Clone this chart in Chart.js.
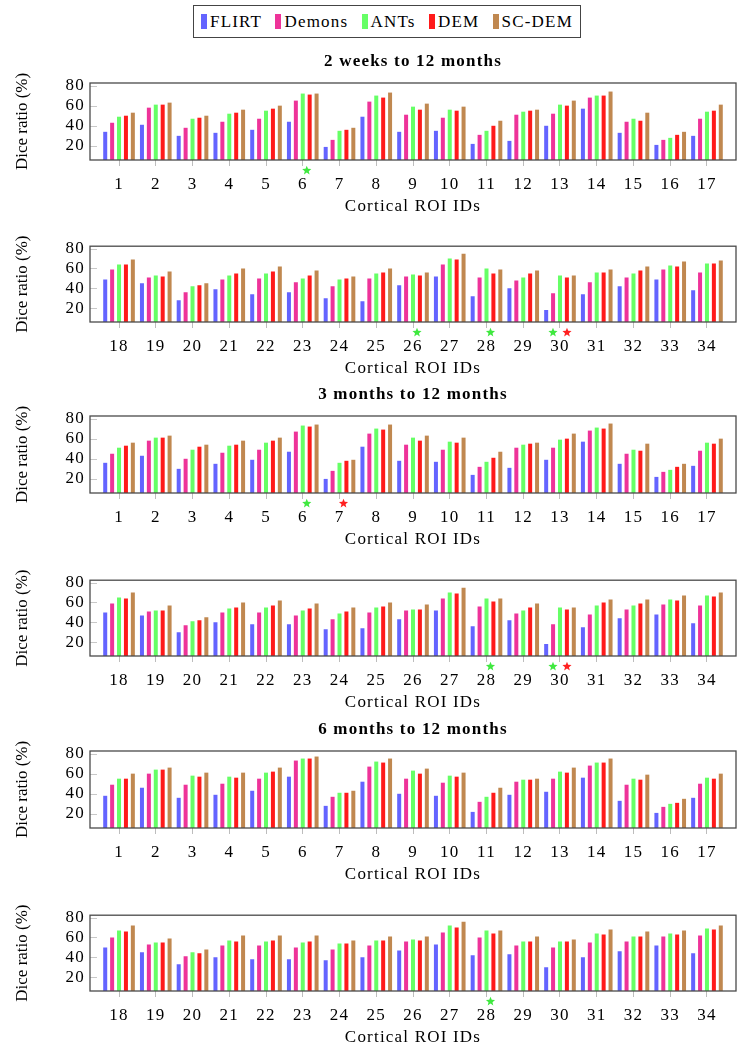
<!DOCTYPE html>
<html>
<head>
<meta charset="utf-8">
<script src="https://cdn.jsdelivr.net/npm/chart.js@4.4.1/dist/chart.umd.min.js"></script>
<style>
    html, body { margin: 0; padding: 0; background: #fff; }
    body { width: 747px; height: 1050px; position: relative; overflow: hidden; font-family: "Liberation Serif", "Times New Roman", serif; }
    canvas.panel { position: absolute; left: 0; }
    #legend {
        position: absolute; left: 193px; top: 5px; width: 388px; height: 33px;
        border: 1px solid #444; box-sizing: border-box; padding: 0 7px;
        display: flex; align-items: center; justify-content: space-between;
        font-size: 17px; letter-spacing: 1.2px; color: #000;
    }
    .legend-item { display: flex; align-items: center; }
    .legend-swatch { display: inline-block; width: 6px; height: 15px; margin-right: 3px; }
</style>
</head>
<body>
<div id="legend"></div>
<canvas class="panel" id="p1" width="747" height="178" style="top:40px"></canvas>
<canvas class="panel" id="p2" width="747" height="149" style="top:231px"></canvas>
<canvas class="panel" id="p3" width="747" height="178" style="top:373px"></canvas>
<canvas class="panel" id="p4" width="747" height="149" style="top:565px"></canvas>
<canvas class="panel" id="p5" width="747" height="178" style="top:708px"></canvas>
<canvas class="panel" id="p6" width="747" height="149" style="top:900px"></canvas>
<script>
const methods = ['FLIRT', 'Demons', 'ANTs', 'DEM', 'SC-DEM'];
const methodColors = ['#6464ff', '#ee3399', '#66ff66', '#ff1a1a', '#c08850'];
const starColors = { ANTs: '#3fe83f', DEM: '#ff2020' };

const roiFirst = [1, 2, 3, 4, 5, 6, 7, 8, 9, 10, 11, 12, 13, 14, 15, 16, 17];
const roiSecond = [18, 19, 20, 21, 22, 23, 24, 25, 26, 27, 28, 29, 30, 31, 32, 33, 34];
const yTicks = [20, 40, 60, 80];

// 2 weeks to 12 months
const twoWk1Flirt = [34, 41, 30, 33, 36, 44, 19, 49, 34, 35, 22, 25, 40, 57, 33, 21, 30];
const twoWk1Demons = [43, 58, 38, 44, 47, 65, 26, 64, 51, 48, 31, 51, 52, 68, 44, 26, 47];
const twoWk1Ants = [49, 61, 47, 52, 55, 72, 35, 70, 59, 56, 35, 54, 61, 70, 47, 28, 54];
const twoWk1Dem = [50, 61, 48, 53, 57, 71, 36, 68, 56, 55, 40, 55, 60, 70, 45, 31, 55];
const twoWk1ScDem = [53, 63, 50, 56, 60, 72, 38, 73, 62, 59, 45, 56, 65, 74, 53, 34, 61];

const twoWk2Flirt = [49, 45, 28, 39, 34, 36, 30, 27, 43, 52, 32, 40, 18, 34, 42, 49, 38];
const twoWk2Demons = [59, 51, 36, 49, 50, 46, 42, 50, 52, 64, 51, 48, 35, 46, 51, 59, 56];
const twoWk2Ants = [64, 53, 42, 53, 55, 50, 49, 55, 54, 70, 60, 51, 53, 56, 55, 63, 65];
const twoWk2Dem = [64, 52, 43, 55, 57, 53, 50, 56, 53, 69, 55, 55, 51, 56, 58, 62, 65];
const twoWk2ScDem = [69, 57, 45, 60, 62, 58, 52, 60, 56, 75, 59, 58, 53, 59, 62, 67, 68];

// 3 months to 12 months
const threeMo1Flirt = [36, 43, 30, 35, 39, 47, 20, 52, 38, 37, 24, 31, 39, 57, 35, 22, 33];
const threeMo1Demons = [45, 58, 40, 46, 49, 67, 28, 65, 54, 49, 32, 51, 51, 68, 45, 27, 48];
const threeMo1Ants = [51, 61, 49, 53, 56, 73, 36, 70, 61, 57, 37, 54, 59, 71, 49, 29, 56];
const threeMo1Dem = [53, 61, 52, 54, 58, 72, 38, 69, 58, 56, 41, 55, 60, 70, 48, 32, 55];
const threeMo1ScDem = [56, 63, 54, 58, 61, 74, 39, 74, 63, 61, 47, 56, 65, 75, 55, 35, 60];

const threeMo2Flirt = [50, 47, 30, 40, 38, 38, 33, 34, 43, 52, 36, 42, 18, 35, 44, 48, 39];
const threeMo2Demons = [59, 51, 37, 50, 50, 47, 43, 50, 52, 64, 56, 49, 38, 48, 53, 58, 57];
const threeMo2Ants = [65, 52, 41, 54, 55, 52, 49, 55, 53, 70, 64, 52, 55, 57, 57, 63, 67];
const threeMo2Dem = [64, 52, 42, 55, 57, 54, 51, 56, 53, 69, 61, 55, 53, 60, 59, 62, 66];
const threeMo2ScDem = [70, 57, 45, 60, 62, 59, 55, 60, 58, 75, 64, 59, 55, 63, 63, 67, 70];

// 6 months to 12 months
const sixMo1Flirt = [38, 46, 36, 39, 43, 57, 28, 52, 40, 38, 22, 39, 42, 56, 33, 21, 36];
const sixMo1Demons = [49, 60, 49, 50, 55, 73, 37, 67, 55, 51, 32, 52, 55, 68, 49, 27, 50];
const sixMo1Ants = [55, 64, 58, 57, 61, 75, 41, 72, 63, 58, 37, 54, 62, 71, 55, 30, 56];
const sixMo1Dem = [55, 64, 57, 56, 62, 75, 41, 71, 60, 57, 41, 54, 61, 71, 54, 31, 55];
const sixMo1ScDem = [60, 66, 61, 61, 66, 77, 43, 75, 65, 61, 46, 55, 66, 75, 59, 35, 60];

const sixMo2Flirt = [50, 45, 33, 40, 38, 38, 37, 40, 47, 53, 42, 43, 30, 40, 46, 52, 44];
const sixMo2Demons = [60, 53, 41, 52, 52, 50, 48, 52, 56, 65, 60, 52, 50, 55, 56, 61, 62];
const sixMo2Ants = [67, 55, 45, 57, 56, 55, 54, 57, 58, 72, 67, 56, 56, 64, 61, 64, 69];
const sixMo2Dem = [66, 55, 44, 56, 57, 56, 54, 57, 57, 70, 64, 56, 56, 63, 61, 63, 68];
const sixMo2ScDem = [72, 59, 48, 62, 62, 62, 57, 61, 61, 76, 67, 61, 58, 68, 66, 67, 72];

// significance stars under the axis
const twoWk1Stars = [{ roi: 6, method: 'ANTs' }];
const twoWk2Stars = [{ roi: 26, method: 'ANTs' }, { roi: 28, method: 'ANTs' }, { roi: 30, method: 'ANTs' }, { roi: 30, method: 'DEM' }];
const threeMo1Stars = [{ roi: 6, method: 'ANTs' }, { roi: 7, method: 'DEM' }];
const threeMo2Stars = [{ roi: 28, method: 'ANTs' }, { roi: 30, method: 'ANTs' }, { roi: 30, method: 'DEM' }];
const sixMo1Stars = [];
const sixMo2Stars = [{ roi: 28, method: 'ANTs' }];

Chart.defaults.font.family = '"Liberation Serif", "Times New Roman", serif';
Chart.defaults.font.size = 17;
Chart.defaults.color = '#000';

const legendEl = document.getElementById('legend');
methods.forEach(function (name, i) {
    const item = document.createElement('span');
    item.className = 'legend-item';
    item.innerHTML = '<span class="legend-swatch" style="background:' + methodColors[i] + '"></span>' + name;
    legendEl.appendChild(item);
});

function drawStar(ctx, cx, cy, outer, inner, color) {
    ctx.beginPath();
    for (let k = 0; k < 10; k++) {
        const r = k % 2 === 0 ? outer : inner;
        const a = -Math.PI / 2 + k * Math.PI / 5;
        const px = cx + r * Math.cos(a);
        const py = cy + r * Math.sin(a);
        if (k === 0) ctx.moveTo(px, py); else ctx.lineTo(px, py);
    }
    ctx.closePath();
    ctx.fillStyle = color;
    ctx.fill();
}

// the source figure is set a little wide; spread horizontal text to match
const textSpreadPlugin = {
    id: 'textSpread',
    beforeDraw(chart) {
        chart.ctx.letterSpacing = '1.2px';
        const ys = chart.scales.y;
        if (ys && !ys._plainTitle) {
            const original = ys.drawTitle;
            ys.drawTitle = function () {
                const c = this.ctx;
                const prev = c.letterSpacing;
                c.letterSpacing = '0px';
                original.apply(this, arguments);
                c.letterSpacing = prev;
            };
            ys._plainTitle = true;
        }
    }
};

const framePlugin = {
    id: 'frame',
    afterDatasetsDraw(chart) {
        const ctx = chart.ctx;
        const a = chart.chartArea;
        const ys = chart.scales.y;
        ctx.save();
        ctx.strokeStyle = '#c8c8c8';
        ctx.lineWidth = 1;
        ys.ticks.forEach(function (t) {
            const y = Math.round(ys.getPixelForValue(t.value)) + 0.5;
            ctx.beginPath();
            ctx.moveTo(a.left, y);
            ctx.lineTo(a.left + 7, y);
            ctx.stroke();
        });
        ctx.strokeStyle = '#4a4a4a';
        ctx.lineWidth = 1.3;
        ctx.strokeRect(a.left, a.top, a.right - a.left, a.bottom - a.top);
        ctx.restore();
    }
};

const starPlugin = {
    id: 'starMarks',
    afterDatasetsDraw(chart, args, opts) {
        const stars = opts.stars || [];
        const xs = chart.scales.x;
        const ctx = chart.ctx;
        ctx.save();
        stars.forEach(function (s) {
            const paired = stars.filter(function (o) { return o.roi === s.roi; }).length > 1;
            const shift = paired ? (s.method === 'ANTs' ? -7 : 7) : 4;
            const cx = xs.getPixelForValue(s.roi) + shift;
            const cy = chart.chartArea.bottom + 10.5;
            drawStar(ctx, cx, cy, 4.8, 2.1, starColors[s.method]);
        });
        ctx.restore();
    }
};

function buildPanel(canvasId, title, rois, series, stars) {
    const datasets = methods.map(function (name, i) {
        return {
            label: name,
            data: series[i],
            backgroundColor: methodColors[i],
            borderWidth: 0,
            categoryPercentage: 0.94,
            barPercentage: 0.58
        };
    });

    new Chart(document.getElementById(canvasId), {
        type: 'bar',
        data: { labels: rois, datasets: datasets },
        options: {
            responsive: false,
            animation: false,
            layout: { padding: { top: title ? 0 : 14, right: 11, left: 0, bottom: 0 } },
            plugins: {
                legend: { display: false },
                tooltip: { enabled: false },
                title: {
                    display: !!title,
                    text: title,
                    fullSize: false,
                    color: '#000',
                    font: { size: 17, weight: 'bold' },
                    padding: { top: 11.3, bottom: 11.3 }
                },
                starMarks: { stars: stars }
            },
            scales: {
                x: {
                    type: 'linear',
                    offset: false,
                    min: rois[0] - 0.79,
                    max: rois[rois.length - 1] + 0.79,
                    afterBuildTicks: function (scale) {
                        scale.ticks = rois.map(function (v) { return { value: v }; });
                    },
                    afterFit: function (scale) { scale.height = 58; },
                    grid: { display: true, offset: false, drawOnChartArea: false, drawTicks: true, tickLength: 6, color: '#bdbdbd' },
                    border: { display: false },
                    ticks: { padding: 8, maxRotation: 0, autoSkip: false, color: '#000' },
                    title: { display: true, text: 'Cortical ROI IDs', color: '#000', padding: { top: 0, bottom: 0.8 } }
                },
                y: {
                    min: 6,
                    max: 82.5,
                    afterBuildTicks: function (scale) {
                        scale.ticks = yTicks.map(function (v) { return { value: v }; });
                    },
                    afterFit: function (scale) { scale.width = 90; },
                    grid: { display: false, drawTicks: false },
                    border: { display: false },
                    ticks: { padding: 5, color: '#000' },
                    title: { display: true, text: 'Dice ratio (%)', color: '#000', padding: { top: 12, bottom: 0 } }
                }
            }
        },
        plugins: [textSpreadPlugin, framePlugin, starPlugin]
    });
}

buildPanel('p1', '2 weeks to 12 months', roiFirst,
    [twoWk1Flirt, twoWk1Demons, twoWk1Ants, twoWk1Dem, twoWk1ScDem], twoWk1Stars);
buildPanel('p2', '', roiSecond,
    [twoWk2Flirt, twoWk2Demons, twoWk2Ants, twoWk2Dem, twoWk2ScDem], twoWk2Stars);
buildPanel('p3', '3 months to 12 months', roiFirst,
    [threeMo1Flirt, threeMo1Demons, threeMo1Ants, threeMo1Dem, threeMo1ScDem], threeMo1Stars);
buildPanel('p4', '', roiSecond,
    [threeMo2Flirt, threeMo2Demons, threeMo2Ants, threeMo2Dem, threeMo2ScDem], threeMo2Stars);
buildPanel('p5', '6 months to 12 months', roiFirst,
    [sixMo1Flirt, sixMo1Demons, sixMo1Ants, sixMo1Dem, sixMo1ScDem], sixMo1Stars);
buildPanel('p6', '', roiSecond,
    [sixMo2Flirt, sixMo2Demons, sixMo2Ants, sixMo2Dem, sixMo2ScDem], sixMo2Stars);
</script>
</body>
</html>
